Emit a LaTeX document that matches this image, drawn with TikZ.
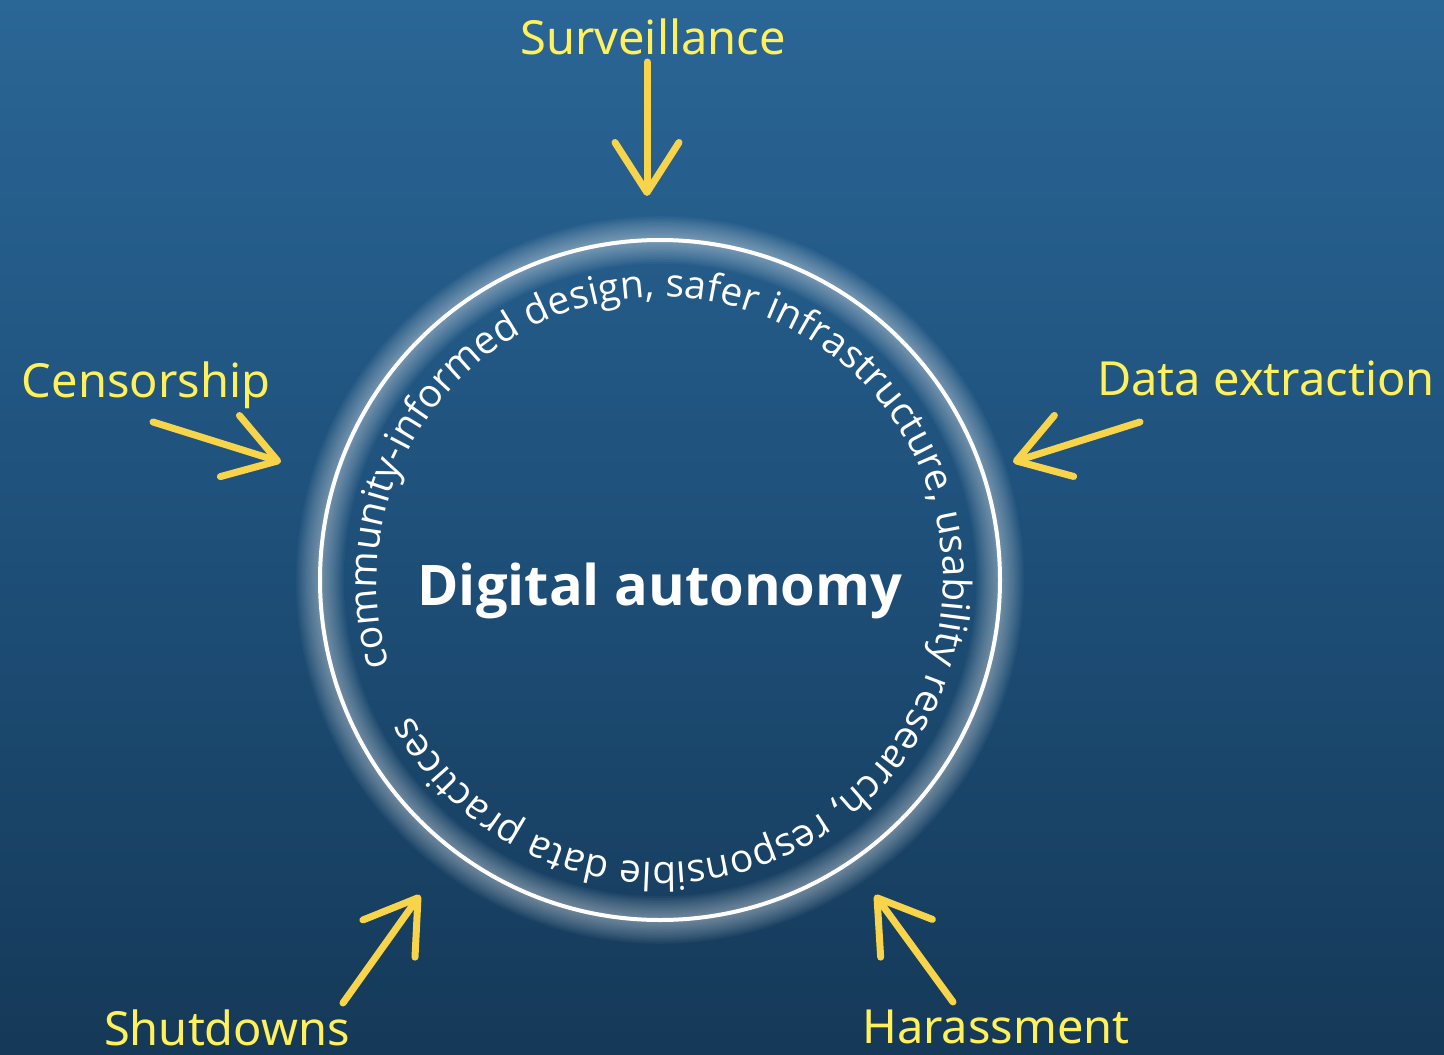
\documentclass[tikz,border=0pt]{standalone}
\usepackage{fontspec}
\setmainfont{Open Sans}
\newfontfamily\labelfont{Noto Sans}
\newfontfamily\titlefont{Open Sans}
\usetikzlibrary{arrows.meta,decorations.text}
\definecolor{bgtop}{RGB}{42,102,150}
\definecolor{bgmid}{RGB}{30,80,122}
\definecolor{bgbot}{RGB}{21,57,88}
\definecolor{arrowyellow}{RGB}{247,212,74}
\definecolor{labelyellow}{RGB}{255,240,92}
\newcommand{\circfont}{\fontsize{39}{42}\selectfont}
\tikzset{
  threat/.style={font=\labelfont\fontsize{47}{52}\selectfont, text=labelyellow, anchor=base, inner sep=0pt},
  pointer/.style={draw=arrowyellow, line width=7pt, line cap=round,
    -{Straight Barb[length=50pt, width=64pt, round]}},
}
\begin{document}
\begin{tikzpicture}[x=1pt,y=1pt]
\useasboundingbox (0,0) rectangle (1444,-1055);
\shade[top color=bgtop, bottom color=bgbot, middle color=bgmid] (0,0) rectangle (1444,-1055);
\coordinate (C) at (660,-580);
% glow
\foreach \i in {1,...,14}{
  \draw[white, opacity=0.035, line width=\i*3.4pt] (C) circle[radius=340];
}
\node[circle, draw=white, line width=4pt, minimum size=680pt, inner sep=0pt] (ring) at (C) {};
% circular text
\path[decorate, decoration={text along path, text align=left,
  text={|\circfont\color{white}|community-informed design, safer infrastructure, usability research, responsible data practices}}]
  (C) ++(197.5:283) arc[start angle=197.5, end angle=-156.5, radius=283];
% title
\node[font=\titlefont\bfseries\fontsize{56}{60}\selectfont, text=white, anchor=base, inner sep=0pt] (title) at (660,-605) {Digital autonomy};
% labels
\node[threat] (surv) at (653,-54) {Surveillance};
\node[threat] (cens) at (146,-397) {Censorship};
\node[threat] (data) at (1266,-395) {Data extraction};
\node[threat] (shut) at (227,-1045) {Shutdowns};
\node[threat] (hara) at (996,-1043) {Harassment};
% arrow ends
\coordinate (survA) at (647,-62);  \coordinate (survB) at (647,-196);
\coordinate (censA) at (153,-422); \coordinate (censB) at (281,-462);
\coordinate (dataA) at (1140,-422); \coordinate (dataB) at (1013,-462);
\coordinate (shutA) at (343,-1003); \coordinate (shutB) at (420,-895);
\coordinate (haraA) at (953,-1002); \coordinate (haraB) at (875,-895);
\draw[pointer] (survA) -- (survB);
\draw[pointer] (censA) -- (censB);
\draw[pointer] (dataA) -- (dataB);
\draw[pointer] (shutA) -- (shutB);
\draw[pointer] (haraA) -- (haraB);
\end{tikzpicture}
\end{document}
